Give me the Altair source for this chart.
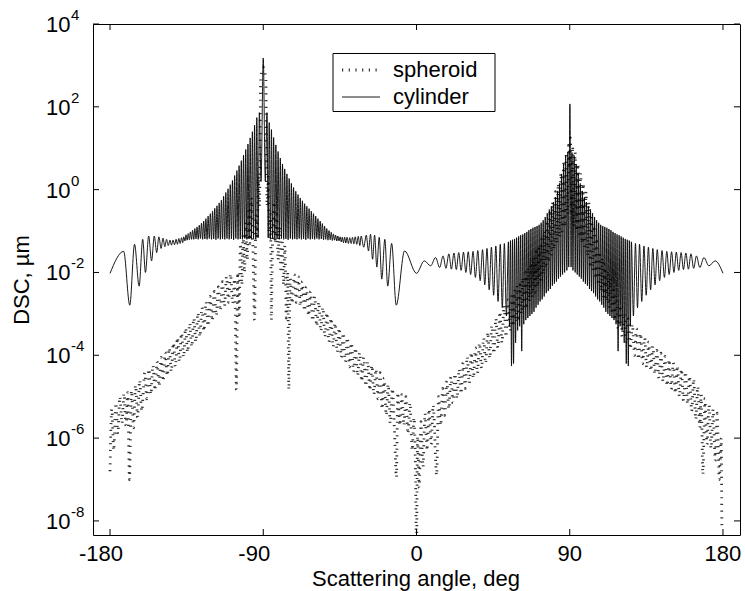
import altair as alt
import pandas as pd

# ---------------- data: (scattering angle [deg], log10 DSC [um]) ----------------
cyl_left_wing = [(-180.0, -2.02), (-172.0, -1.49), (-168.4, -2.79), (-165.6, -1.32), (-162.9, -2.33),
                 (-160.8, -1.20), (-159.2, -2.00), (-157.3, -1.12), (-155.6, -1.72), (-154.0, -1.12),
                 (-152.6, -1.52), (-151.3, -1.14), (-150.0, -1.42), (-148.9, -1.17), (-147.8, -1.38),
                 (-146.8, -1.20), (-145.8, -1.35), (-144.8, -1.22), (-143.9, -1.34), (-143.0, -1.22),
                 (-142.1, -1.33), (-141.2, -1.20), (-140.4, -1.32), (-139.6, -1.18), (-138.8, -1.30),
                 (-138.0, -1.16), (-137.3, -1.28)]

cyl_left_tent_a = [(-136.7, -1.14), (-136.0, -1.24), (-135.4, -1.09), (-134.7, -1.22), (-134.1, -1.06),
                   (-133.4, -1.21), (-132.8, -1.02), (-132.1, -1.20), (-131.5, -0.98), (-130.8, -1.20),
                   (-130.2, -0.94), (-129.5, -1.19), (-128.9, -0.90), (-128.2, -1.20), (-127.6, -0.86),
                   (-126.9, -1.18), (-126.3, -0.81), (-125.6, -1.20), (-125.0, -0.76), (-124.3, -1.19),
                   (-123.7, -0.70), (-123.0, -1.20), (-122.4, -0.64), (-121.7, -1.18), (-121.1, -0.58),
                   (-120.4, -1.20), (-119.8, -0.52), (-119.1, -1.19), (-118.5, -0.45), (-117.8, -1.21),
                   (-117.2, -0.39), (-116.5, -1.18), (-115.9, -0.32), (-115.2, -1.20), (-114.6, -0.25),
                   (-113.9, -1.19), (-113.3, -0.16), (-112.6, -1.20), (-112.0, -0.07), (-111.3, -1.18),
                   (-110.7, 0.02), (-110.0, -1.20), (-109.4, 0.12), (-108.7, -1.19), (-108.1, 0.22),
                   (-107.4, -1.21), (-106.8, 0.34), (-106.1, -1.18), (-105.5, 0.46), (-104.8, -1.20),
                   (-104.2, 0.58), (-103.5, -1.19), (-102.9, 0.70), (-102.2, -1.20), (-101.6, 0.83),
                   (-100.9, -1.18), (-100.3, 0.97), (-99.6, -1.20), (-99.0, 1.10), (-98.3, -1.19),
                   (-97.7, 1.25), (-97.0, -1.20), (-96.4, 1.40), (-95.7, -1.18), (-95.1, 1.56),
                   (-94.4, -1.20), (-93.8, 1.74), (-93.0, -1.16), (-92.3, 1.86), (-91.3, 0.20)]

cyl_left_tent_b = [(-90.0, 3.18), (-88.8, 0.20), (-87.8, 1.86),
                   (-87.1, -1.16), (-86.5, 1.62), (-85.8, -1.20), (-85.2, 1.45), (-84.5, -1.18), (-83.9, 1.26),
                   (-83.2, -1.20), (-82.6, 1.08), (-81.9, -1.19), (-81.3, 0.92), (-80.6, -1.20), (-80.0, 0.76),
                   (-79.3, -1.18), (-78.7, 0.62), (-78.0, -1.20), (-77.4, 0.50), (-76.7, -1.19), (-76.1, 0.38),
                   (-75.4, -1.21), (-74.8, 0.27), (-74.1, -1.18), (-73.5, 0.15), (-72.8, -1.20), (-72.2, 0.05),
                   (-71.5, -1.19), (-70.9, -0.04), (-70.2, -1.20), (-69.6, -0.12), (-68.9, -1.18), (-68.3, -0.20),
                   (-67.6, -1.20), (-67.0, -0.27), (-66.3, -1.19), (-65.7, -0.34), (-65.0, -1.21), (-64.4, -0.40),
                   (-63.7, -1.18), (-63.1, -0.46), (-62.4, -1.20), (-61.8, -0.52), (-61.1, -1.19), (-60.5, -0.58),
                   (-59.8, -1.20), (-59.2, -0.64), (-58.5, -1.18), (-57.9, -0.70), (-57.2, -1.20), (-56.6, -0.76),
                   (-55.9, -1.19), (-55.3, -0.82), (-54.6, -1.21), (-54.0, -0.88), (-53.3, -1.20), (-52.7, -0.94),
                   (-52.0, -1.22), (-51.4, -0.99), (-50.7, -1.21), (-50.1, -1.03), (-49.4, -1.23), (-48.8, -1.07),
                   (-48.1, -1.22), (-47.5, -1.10), (-46.8, -1.24), (-46.2, -1.12), (-45.5, -1.24), (-44.9, -1.14)]

cyl_left_end = [(-44.2, -1.26), (-43.6, -1.15), (-42.9, -1.28), (-42.2, -1.15), (-41.5, -1.29), (-40.8, -1.15),
                (-40.0, -1.30), (-39.2, -1.16), (-38.4, -1.30), (-37.6, -1.15), (-36.8, -1.31), (-36.0, -1.14),
                (-35.1, -1.32), (-34.2, -1.13), (-33.3, -1.35), (-32.5, -1.12), (-31.0, -1.39), (-29.5, -1.10),
                (-28.2, -1.48), (-27.0, -1.08), (-25.8, -1.68), (-24.6, -1.10), (-23.3, -1.87), (-21.9, -1.15),
                (-20.4, -2.16), (-18.6, -1.20), (-16.9, -2.33), (-14.6, -1.30), (-11.9, -2.79), (-7.0, -1.48),
                (0.0, -2.02)]

cyl_right_a = [(4.6, -1.72), (8.3, -1.84), (11.2, -1.64), (13.6, -1.88), (15.6, -1.60), (17.3, -1.90),
               (19.0, -1.55), (20.5, -1.92), (22.0, -1.53), (23.4, -1.93), (24.8, -1.52), (26.2, -1.95),
               (27.6, -1.51), (29.0, -2.00), (30.4, -1.50), (31.8, -2.05), (33.2, -1.49), (34.6, -2.12),
               (36.0, -1.47), (37.4, -2.20), (38.8, -1.45), (40.1, -2.30), (41.4, -1.42), (42.7, -2.42),
               (44.0, -1.39), (45.3, -2.55), (46.6, -1.36), (47.9, -2.70), (49.2, -1.32), (50.4, -2.85),
               (51.6, -1.30), (52.8, -3.05), (54.0, -1.26), (54.6, -3.30), (55.2, -1.23), (55.8, -4.26),
               (56.4, -1.21), (57.0, -4.20), (57.6, -1.19), (58.2, -3.70), (58.8, -1.16), (59.4, -3.40),
               (60.0, -1.13), (60.6, -3.30), (61.2, -1.10), (61.8, -3.90), (62.4, -1.08), (63.0, -3.25),
               (63.6, -1.05), (64.2, -3.15), (64.8, -1.02), (65.4, -3.10), (66.0, -0.98), (66.6, -3.05),
               (67.2, -0.95), (67.8, -3.00), (68.4, -0.92), (69.0, -2.95), (69.6, -0.90), (70.2, -2.85),
               (70.8, -0.88), (71.4, -2.78), (72.0, -0.85), (72.6, -2.70), (73.2, -0.80), (73.8, -2.65),
               (74.4, -0.74), (75.0, -2.58), (75.6, -0.66), (76.2, -2.50), (76.8, -0.57), (77.4, -2.45),
               (78.0, -0.48), (78.6, -2.40), (79.2, -0.40), (79.8, -2.32), (80.4, -0.30), (81.0, -2.27),
               (81.6, -0.18), (82.2, -2.22), (82.8, -0.03), (83.4, -2.15), (84.0, 0.15), (84.6, -2.10),
               (85.2, 0.38), (85.8, -2.05), (86.4, 0.62), (87.0, -2.00), (87.6, 0.82), (88.3, -1.95),
               (88.9, 0.90), (89.4, -1.87)]

cyl_right_b = [(90.1, 2.07), (90.8, -1.87), (91.3, 0.90), (91.9, -1.95), (92.6, 0.82), (93.2, -2.00),
               (93.8, 0.62), (94.4, -2.05), (95.0, 0.38), (95.6, -2.10), (96.2, 0.15), (96.8, -2.15),
               (97.4, -0.03), (98.0, -2.22), (98.6, -0.18), (99.2, -2.27), (99.8, -0.30), (100.4, -2.32),
               (101.0, -0.40), (101.6, -2.40), (102.2, -0.48), (102.8, -2.45), (103.4, -0.57), (104.0, -2.50),
               (104.6, -0.66), (105.2, -2.58), (105.8, -0.74), (106.4, -2.65), (107.0, -0.80), (107.6, -2.70),
               (108.2, -0.85), (108.8, -2.78), (109.4, -0.88), (110.0, -2.85), (110.6, -0.90), (111.2, -2.95),
               (111.8, -0.92), (112.4, -3.00), (113.0, -0.95), (113.6, -3.05), (114.2, -0.98), (114.8, -3.10),
               (115.4, -1.02), (116.0, -3.15), (116.6, -1.05), (117.2, -3.25), (117.8, -1.08), (118.4, -3.90),
               (119.0, -1.10), (119.6, -3.30), (120.2, -1.13), (120.8, -3.40), (121.4, -1.16), (122.0, -3.70),
               (122.6, -1.19), (123.2, -4.20), (123.8, -1.21), (124.4, -4.26), (125.0, -1.23), (125.6, -3.30),
               (126.2, -1.26), (127.4, -3.05), (128.6, -1.30), (129.8, -2.85), (131.0, -1.32), (132.3, -2.70),
               (133.6, -1.36), (134.9, -2.55), (136.2, -1.39), (137.5, -2.42), (138.8, -1.42), (140.1, -2.30),
               (141.4, -1.45), (142.8, -2.20), (144.2, -1.47), (145.6, -2.12), (147.0, -1.49), (148.4, -2.05),
               (149.8, -1.50), (151.2, -2.00), (152.6, -1.51), (154.0, -1.95), (155.4, -1.52), (156.8, -1.93),
               (158.2, -1.53), (159.7, -1.92), (161.2, -1.55), (162.8, -1.90), (164.4, -1.60), (166.4, -1.88),
               (168.8, -1.64), (171.7, -1.84), (175.4, -1.72), (180.0, -2.02)]

sph_left_wing_a = [(-180.0, -6.8), (-179.0, -5.3), (-177.8, -6.3), (-176.6, -5.15), (-175.4, -5.9), (-174.2, -5.0),
                   (-173.0, -5.65), (-171.8, -4.92), (-170.6, -5.7), (-169.6, -4.9), (-168.6, -7.0), (-167.4, -4.85),
                   (-166.2, -5.75), (-165.0, -4.72), (-163.8, -5.5), (-162.6, -4.6), (-161.4, -5.35)]

sph_left_wing_b = [(-159.6, -4.42), (-158.4, -5.05), (-157.2, -4.33), (-156.0, -4.95), (-154.8, -4.24), (-153.6, -4.85),
                   (-152.4, -4.15), (-151.2, -4.75), (-150.0, -4.05), (-148.8, -4.63), (-147.6, -3.93), (-146.4, -4.5),
                   (-145.2, -3.82), (-144.0, -4.4), (-142.8, -3.7), (-141.6, -4.28), (-140.4, -3.57), (-139.2, -4.16),
                   (-138.0, -3.46), (-136.8, -4.05), (-135.6, -3.34), (-134.4, -3.93), (-133.2, -3.22), (-132.0, -3.8),
                   (-130.8, -3.1), (-129.6, -3.68), (-128.4, -2.97), (-127.2, -3.56), (-126.0, -2.84), (-124.8, -3.42),
                   (-123.6, -2.71), (-122.4, -3.3), (-121.2, -2.58), (-120.0, -3.17), (-118.8, -2.46), (-117.6, -3.05),
                   (-116.4, -2.35), (-115.2, -2.93), (-114.0, -2.22), (-112.8, -2.82), (-111.6, -2.1), (-110.4, -2.72),
                   (-109.2, -2.03), (-108.0, -2.75), (-106.8, -2.15), (-105.8, -4.83)]

sph_left_center = [(-105.0, -2.0), (-104.2, -3.1), (-103.4, -1.3), (-102.6, -2.3), (-101.8, -1.1), (-101.0, -2.0),
                   (-100.2, -0.8), (-99.4, -1.7), (-98.6, -0.5), (-97.8, -1.3), (-97.0, -0.2), (-96.2, -1.1),
                   (-95.1, -3.15), (-94.3, -0.6), (-93.6, -1.2), (-92.9, 0.3), (-92.2, -0.4), (-91.5, 2.7),
                   (-90.0, 2.95), (-88.5, 2.7), (-87.8, -0.4), (-87.1, 0.3), (-86.4, -1.2), (-85.7, -0.6),
                   (-85.3, -3.15), (-84.5, -1.1), (-83.7, -0.3), (-82.9, -1.3), (-82.1, -0.6), (-81.3, -1.7),
                   (-80.5, -0.9), (-79.7, -2.0), (-78.9, -1.2), (-78.1, -2.3), (-77.3, -1.35), (-76.5, -3.1),
                   (-75.7, -2.0), (-75.0, -4.83)]

sph_left_wing_c = [(-74.2, -2.15), (-73.0, -2.75), (-71.8, -2.05), (-70.6, -2.72), (-69.4, -2.1), (-68.2, -2.82),
                   (-67.0, -2.22), (-65.8, -2.93), (-64.6, -2.35), (-63.4, -3.05), (-62.2, -2.46), (-61.0, -3.17),
                   (-59.8, -2.58), (-58.6, -3.3), (-57.4, -2.71), (-56.2, -3.42), (-55.0, -2.84), (-53.8, -3.56),
                   (-52.6, -2.97), (-51.4, -3.68), (-50.2, -3.1), (-49.0, -3.8), (-47.8, -3.22), (-46.6, -3.93),
                   (-45.4, -3.34), (-44.2, -4.05), (-43.0, -3.46), (-41.8, -4.16), (-40.6, -3.57), (-39.4, -4.28),
                   (-38.2, -3.7), (-37.0, -4.4), (-35.8, -3.82), (-34.6, -4.5), (-33.4, -3.93), (-32.2, -4.63),
                   (-31.0, -4.05), (-29.8, -4.75), (-28.6, -4.15), (-27.4, -4.85), (-26.2, -4.24), (-25.0, -4.95),
                   (-23.8, -4.33), (-22.6, -5.05), (-21.4, -4.42), (-20.2, -5.3), (-19.0, -4.55), (-17.8, -5.45),
                   (-16.6, -4.7), (-15.4, -5.65), (-14.2, -4.8), (-13.0, -5.75), (-11.8, -6.95), (-11.0, -4.9),
                   (-9.8, -5.7), (-8.6, -4.95), (-7.4, -5.7), (-6.2, -5.0), (-5.0, -5.9), (-3.8, -5.15),
                   (-2.6, -6.3), (-1.4, -5.5), (-0.6, -6.8), (0.0, -8.8)]

sph_right_wing_a = [(0.6, -5.95), (1.6, -7.2), (2.6, -5.6), (3.8, -6.7), (5.0, -5.4), (6.2, -6.3), (7.4, -5.3),
                    (8.6, -6.15), (9.8, -5.2), (11.8, -6.9), (13.0, -5.0), (14.2, -5.7), (15.4, -4.8), (16.6, -5.45),
                    (17.8, -4.62), (19.0, -5.3), (20.2, -4.52), (21.4, -5.15), (22.6, -4.44), (23.8, -5.05),
                    (25.0, -4.33), (26.2, -4.93), (27.4, -4.18), (28.6, -4.8), (29.8, -4.03), (31.0, -4.68),
                    (32.2, -3.93), (33.4, -4.56), (34.6, -3.82), (35.8, -4.44), (37.0, -3.7), (38.2, -4.32),
                    (39.4, -3.58), (40.6, -4.2), (41.8, -3.44), (43.0, -4.08), (44.2, -3.28), (45.4, -3.96),
                    (46.6, -3.11), (47.8, -3.82), (49.0, -2.95), (50.2, -3.7), (51.4, -2.8), (52.6, -3.56),
                    (53.8, -2.66), (55.0, -3.42)]

sph_right_center = [(56.0, -2.5), (56.8, -3.3), (57.6, -2.42), (58.4, -3.2), (59.2, -2.32), (60.0, -3.1),
                    (60.8, -2.22), (61.6, -3.0), (62.4, -2.12), (63.2, -2.9), (64.0, -2.0), (64.8, -2.8),
                    (65.6, -1.88), (66.4, -2.7), (67.2, -1.76), (68.0, -2.6), (68.8, -1.64), (69.6, -2.48),
                    (70.4, -1.5), (71.2, -2.36), (72.0, -1.35), (72.8, -2.2), (73.6, -1.2), (74.4, -2.05),
                    (75.2, -1.0), (76.0, -1.9), (76.8, -0.75), (77.6, -1.75), (78.4, -0.5), (79.2, -1.6),
                    (80.0, -0.3), (80.8, -1.45), (81.6, -0.05), (82.4, -1.3), (83.2, 0.15), (84.0, -1.15),
                    (84.8, 0.4), (85.6, -1.0), (86.4, 0.62), (87.2, -0.9), (88.0, 0.9), (88.7, -0.6),
                    (89.4, 1.15), (89.9, 0.6), (90.4, 1.25), (91.0, -0.6), (91.7, 1.05), (92.4, -0.9),
                    (93.2, 0.9), (94.0, -1.0), (94.8, 0.62), (95.6, -1.15), (96.4, 0.4), (97.2, -1.3),
                    (98.0, 0.15), (98.8, -1.45), (99.6, -0.05), (100.4, -1.6), (101.2, -0.3), (102.0, -1.8),
                    (102.8, -0.6), (103.6, -1.95), (104.4, -0.95), (105.2, -2.15), (106.0, -1.25), (106.8, -2.3),
                    (107.6, -1.5), (108.4, -2.45), (109.2, -1.65), (110.0, -2.6), (110.8, -1.8), (111.6, -2.7),
                    (112.4, -1.95), (113.2, -2.85), (114.0, -2.15), (114.8, -3.0), (115.6, -2.35), (116.4, -3.15)]

sph_right_wing_b = [(117.2, -2.55), (118.4, -3.35), (119.6, -2.8), (120.8, -3.55), (122.0, -2.98), (123.2, -3.72),
                    (124.4, -3.12), (125.6, -3.85), (126.8, -3.25), (128.0, -4.0), (129.2, -3.36), (130.4, -4.1),
                    (131.6, -3.47), (132.8, -4.2), (134.0, -3.58), (135.2, -4.3), (136.4, -3.68), (137.6, -4.38),
                    (138.8, -3.78), (140.0, -4.46), (141.2, -3.88), (142.4, -4.56), (143.6, -3.95), (144.8, -4.64),
                    (146.0, -4.03), (147.2, -4.74), (148.4, -4.1), (149.6, -4.82), (150.8, -4.18), (152.0, -4.92),
                    (153.2, -4.25), (154.4, -5.0), (155.6, -4.33), (156.8, -5.1), (158.0, -4.4), (159.2, -5.18),
                    (160.4, -4.5), (161.6, -5.35), (162.8, -4.57), (164.0, -5.55), (165.2, -4.75), (166.4, -5.75),
                    (167.2, -4.95), (168.2, -6.88), (169.4, -5.05), (170.6, -6.15), (171.8, -5.2), (173.0, -6.25),
                    (174.2, -5.3), (175.4, -6.55), (176.6, -5.4), (177.8, -7.0), (179.0, -6.0), (179.4, -8.2),
                    (180.0, -8.2)]

cylinder_pts = cyl_left_wing + cyl_left_tent_a + cyl_left_tent_b + cyl_left_end + cyl_right_a + cyl_right_b
spheroid_pts = (sph_left_wing_a + sph_left_wing_b + sph_left_center + sph_left_wing_c
                + sph_right_wing_a + sph_right_center + sph_right_wing_b)

x_tick_values = [-180, -90, 0, 90, 180]
y_tick_exponents = [4, 2, 0, -2, -4, -6, -8]
legend_labels = ["spheroid", "cylinder"]
x_title = "Scattering angle, deg"
y_title = "DSC, µm"

# ---------------- chart ----------------
FONT = "Liberation Sans"
W, H = 647, 511
DOT = [1.2, 5.5]


def to_frame(pts):
    return pd.DataFrame({"angle": [p[0] for p in pts], "dsc": [10.0 ** p[1] for p in pts]})


x_scale = alt.Scale(domain=[-190, 190], nice=False, zero=False)
y_scale = alt.Scale(type="log", domain=[10 ** -8.34, 10 ** 4], nice=False)
X = alt.X("angle:Q", scale=x_scale, axis=None)
Y = alt.Y("dsc:Q", scale=y_scale, axis=None)

cyl = alt.Chart(to_frame(cylinder_pts)).mark_line(
    interpolate="monotone", clip=True, color="black", strokeWidth=0.9
).encode(x=X, y=Y)

sph = alt.Chart(to_frame(spheroid_pts)).mark_line(
    interpolate="monotone", clip=True, color="#333333", strokeWidth=2.8, strokeDash=DOT
).encode(x=X, y=Y)

xt = pd.DataFrame({"angle": x_tick_values, "label": [str(v) for v in x_tick_values]})
yt = pd.DataFrame({"dsc": [10.0 ** e for e in y_tick_exponents],
                   "base": ["10"] * len(y_tick_exponents),
                   "exp": [str(e) for e in y_tick_exponents]})

xtick_b = alt.Chart(xt).mark_rule(color="black", strokeWidth=1).encode(x=X, y=alt.value(H), y2=alt.value(H - 6))
xtick_t = alt.Chart(xt).mark_rule(color="black", strokeWidth=1).encode(x=X, y=alt.value(0), y2=alt.value(6))
ytick_l = alt.Chart(yt).mark_rule(color="black", strokeWidth=1).encode(y=Y, x=alt.value(0), x2=alt.value(6))
ytick_r = alt.Chart(yt).mark_rule(color="black", strokeWidth=1).encode(y=Y, x=alt.value(W - 6), x2=alt.value(W))

xlab_pos = alt.Chart(xt[xt["angle"] >= 0]).mark_text(
    font=FONT, fontSize=22, baseline="alphabetic", align="center", color="black"
).encode(x=X, y=alt.value(H + 26), text="label:N")
xlab_neg = alt.Chart(xt[xt["angle"] < 0]).mark_text(
    font=FONT, fontSize=22, baseline="alphabetic", align="center", color="black", dx=-9
).encode(x=X, y=alt.value(H + 26), text="label:N")

ylab_base = alt.Chart(yt).mark_text(
    font=FONT, fontSize=22, baseline="middle", align="left", color="black", dy=1
).encode(y=Y, x=alt.value(-47), text="base:N")
ylab_exp = alt.Chart(yt).mark_text(
    font=FONT, fontSize=15, baseline="middle", align="left", color="black", dy=-9
).encode(y=Y, x=alt.value(-22), text="exp:N")

xtitle = alt.Chart(pd.DataFrame({"t": [x_title]})).mark_text(
    font=FONT, fontSize=22, baseline="alphabetic", align="center", color="black"
).encode(x=alt.value(323), y=alt.value(H + 51), text="t:N")
ytitle = alt.Chart(pd.DataFrame({"t": [y_title]})).mark_text(
    font=FONT, fontSize=22, baseline="middle", align="center", color="black", angle=270
).encode(x=alt.value(-71), y=alt.value(256), text="t:N")

one = pd.DataFrame({"k": [0]})
leg_box = alt.Chart(one).mark_rect(fill="white", stroke="black", strokeWidth=1).encode(
    x=alt.value(240), x2=alt.value(402), y=alt.value(29.5), y2=alt.value(87.5))
leg_dot = alt.Chart(one).mark_rule(color="#333333", strokeWidth=2.8, strokeDash=DOT).encode(
    x=alt.value(249), x2=alt.value(284), y=alt.value(46))
leg_solid = alt.Chart(one).mark_rule(color="black", strokeWidth=0.9).encode(
    x=alt.value(249), x2=alt.value(287), y=alt.value(73))
leg_text = alt.Chart(pd.DataFrame({"t": legend_labels, "yy": [46, 73]})).mark_text(
    font=FONT, fontSize=22, baseline="middle", align="left", color="black"
).encode(x=alt.value(300), y=alt.Y("yy:Q", scale=None, axis=None), text="t:N")

chart = alt.layer(
    sph, cyl, xtick_b, xtick_t, ytick_l, ytick_r, xlab_pos, xlab_neg, ylab_base, ylab_exp,
    xtitle, ytitle, leg_box, leg_dot, leg_solid, leg_text
).resolve_scale(y="independent").properties(
    width=W, height=H,
    autosize=alt.AutoSizeParams(type="none"),
    padding={"left": 93, "top": 24, "right": 5, "bottom": 56},
    background="white",
).configure_view(stroke="black", strokeWidth=1)

chart.save("out.html", embed_options={"renderer": "svg", "actions": False})
